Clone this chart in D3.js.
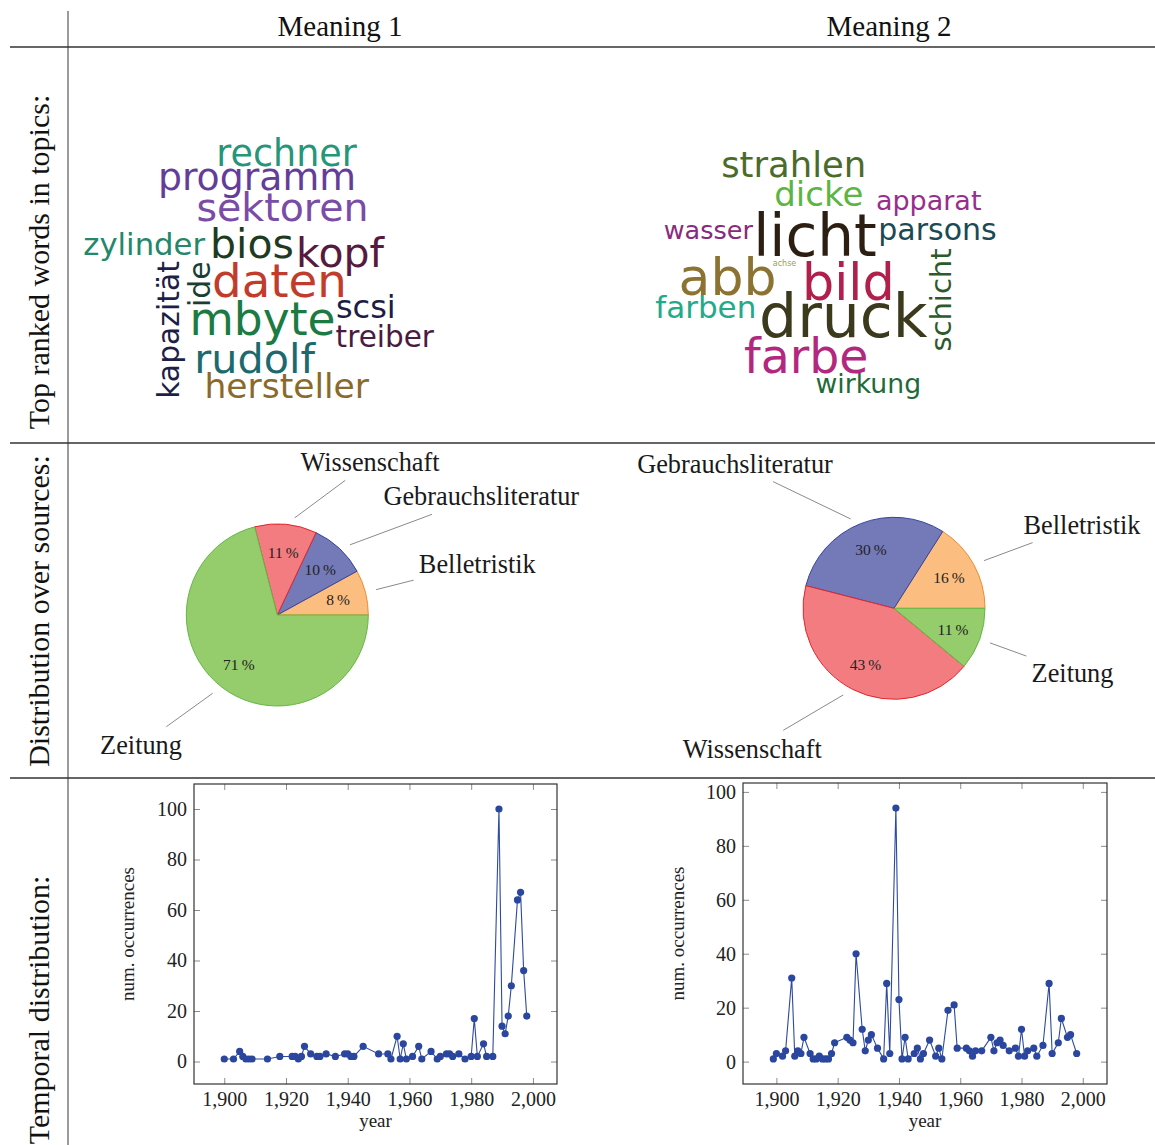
<!DOCTYPE html>
<html>
<head>
<meta charset="utf-8">
<script src="https://cdn.jsdelivr.net/npm/d3@7"></script>
<style>
  html, body { margin: 0; padding: 0; background: #fff; }
  svg { display: block; }
  .serif { font-family: "Liberation Serif", "Times New Roman", serif; }
  .cloud text { font-family: "DejaVu Sans", sans-serif; }
</style>
</head>
<body>
<svg id="fig" width="1155" height="1145"></svg>
<script>
// ---------- data ----------
const columnTitles = ["Meaning 1", "Meaning 2"];
const rowTitles = ["Top ranked words in topics:", "Distribution over sources:", "Temporal distribution:"];

// topic words with their weights (font size in px)
const words1 = ["rechner", "programm", "sektoren", "zylinder", "bios", "kopf", "daten",
                "ide", "kapazität", "mbyte", "scsi", "treiber", "rudolf", "hersteller"];
const weights1 = [36.5, 37.8, 39.5, 30.7, 41, 41, 46.7, 30, 29.8, 45.5, 32, 29.5, 41.3, 34.5];
const colors1 = ["#25967a", "#643d99", "#7a4ca6", "#23876b", "#1f3b1f", "#561a40", "#c23c2c",
                 "#193f35", "#1e1f48", "#1c7a43", "#201d44", "#4a1b42", "#1c6a6e", "#8a6a2b"];

const words2 = ["strahlen", "dicke", "apparat", "wasser", "licht", "parsons", "achse",
                "abb", "bild", "schicht", "farben", "druck", "farbe", "wirkung"];
const weights2 = [35.4, 34, 27, 25.5, 58, 30, 8, 52, 50.8, 29, 31, 60, 47.4, 26.7];
const colors2 = ["#4b6b2a", "#5cb543", "#982e8c", "#892a7c", "#2c1f12", "#1b4a55", "#a0a040",
                 "#8c7331", "#b11f4b", "#2d5a2d", "#22aa8a", "#3b3a1d", "#b2287f", "#1f6a38"];

const sources = ["Belletristik", "Gebrauchsliteratur", "Wissenschaft", "Zeitung"];
const share1 = [8, 10, 11, 71];
const share2 = [16, 30, 43, 11];

const years1 = [1900,1903,1905,1906,1907,1908,1909,1914,1918,1922,1923,1924,1925,1926,1928,1930,1931,1933,1936,1939,
                1940,1941,1942,1945,1950,1953,1954,1956,1957,1958,1959,1961,1963,1964,1967,1969,1970,1972,1973,1974,
                1976,1978,1980,1981,1982,1984,1985,1987,1989,1990,1991,1992,1993,1995,1996,1997,1998];
const counts1 = [1,1,4,2,1,1,1,1,2,2,2,1,2,6,3,2,2,3,2,3,
                 3,2,2,6,3,3,1,10,1,7,1,2,6,1,4,1,2,3,3,2,
                 3,1,2,17,2,7,2,2,100,14,11,18,30,64,67,36,18];

const years2 = [1899,1900,1902,1903,1905,1906,1907,1908,1909,1911,1912,1913,1914,1915,1916,1917,1918,1919,1923,1924,
                1925,1926,1928,1929,1930,1931,1933,1935,1936,1937,1939,1940,1941,1942,1943,1945,1946,1947,1948,1950,
                1952,1953,1954,1956,1958,1959,1962,1963,1964,1965,1967,1970,1971,1972,1973,1974,1976,1978,1979,1980,
                1981,1982,1984,1985,1987,1989,1990,1992,1993,1995,1996,1998];
const counts2 = [1,3,2,4,31,2,4,3,9,3,1,1,2,1,1,1,3,7,9,8,
                 7,40,12,4,8,10,5,1,29,3,94,23,1,9,1,3,5,1,3,8,
                 2,5,1,19,21,5,5,4,2,4,4,9,4,7,8,6,4,5,2,12,
                 2,4,5,2,6,29,3,7,16,9,10,3];

const yearTicks = [1900, 1920, 1940, 1960, 1980, 2000];
const countTicks = [0, 20, 40, 60, 80, 100];

// ---------- layout ----------
// word placement: [centre x, baseline y, rotation]
const cloudLayout1 = [[286.5,166,0],[257,190,0],[282.5,221,0],[144.2,255,0],[252,258,0],[340,266.5,0],[279.5,297,0],
                      [210,284.2,-90],[179,330,-90],[262.5,335,0],[365.8,318,0],[384.8,347,0],[254.7,373,0],[286.7,398,0]];
const cloudLayout2 = [[793.7,177.3,0],[818.8,206,0],[928.7,210,0],[708.3,239.3,0],[815,256,0],[937.5,240,0],[784.5,266,0],
                      [727.5,295,0],[848.3,300,0],[951,300,-90],[705.8,318.3,0],[843.3,336.7,0],[806.3,373.3,0],[868.3,393.3,0]];

const pieBoxes = [
  { cx: 277.3, cy: 615, r: 91, pins: [[200, -51], [204, -119], [92.7, -153], [-136.3, 130]] },
  { cx: 894, cy: 608.3, r: 91, pins: [[188, -84], [-159, -145], [-141.8, 140.3], [178.5, 64.5]] }
];
const sliceFill = ["#fcbd80", "#7479b8", "#f27c80", "#95cd6c"];
const sliceStroke = ["#f28a2a", "#34449e", "#e3262e", "#62b844"];

const plotBoxes = [
  { x0: 194, x1: 557, y0: 784, y1: 1084, labelX: 134 },
  { x0: 743, x1: 1107, y0: 783, y1: 1084, labelX: 684 }
];

const svg = d3.select("#fig");

// ---------- table rules ----------
const rules = svg.append("g");
rules.append("line").attr("x1", 68).attr("x2", 68).attr("y1", 11).attr("y2", 1145)
  .attr("stroke", "#7a7a7a").attr("stroke-width", 1.5);
[47, 443, 778].forEach(y => {
  rules.append("line").attr("x1", 10).attr("x2", 1155).attr("y1", y).attr("y2", y)
    .attr("stroke", "#333").attr("stroke-width", 1.3);
});

// column and row headings
svg.append("g").attr("class", "serif").selectAll("text").data(columnTitles).join("text")
  .attr("x", (d, i) => [340, 889][i]).attr("y", 36)
  .attr("text-anchor", "middle").attr("font-size", 29).attr("fill", "#111").text(d => d);

svg.append("g").attr("class", "serif").selectAll("text").data(rowTitles).join("text")
  .attr("transform", (d, i) => `translate(49,${[262, 611, 1010][i]}) rotate(-90)`)
  .attr("text-anchor", "middle").attr("font-size", 30).attr("fill", "#111").text(d => d);

// ---------- word clouds ----------
function drawCloud(words, weights, colors, layout) {
  const g = svg.append("g").attr("class", "cloud");
  g.selectAll("text").data(words).join("text")
    .attr("transform", (d, i) => `translate(${layout[i][0]},${layout[i][1]}) rotate(${layout[i][2]})`)
    .attr("text-anchor", "middle")
    .attr("font-size", (d, i) => weights[i])
    .attr("fill", (d, i) => colors[i])
    .text(d => d);
}
drawCloud(words1, weights1, colors1, cloudLayout1);
drawCloud(words2, weights2, colors2, cloudLayout2);

// ---------- pies ----------
function drawPie(values, box) {
  const g = svg.append("g").attr("transform", `translate(${box.cx},${box.cy})`);
  // counter-clockwise from 3 o'clock
  const arcs = d3.pie().sort(null).value(d => d)
    .startAngle(Math.PI / 2).endAngle(Math.PI / 2 - 2 * Math.PI)(values);
  const arc = d3.arc().innerRadius(0).outerRadius(box.r);
  g.selectAll("path").data(arcs).join("path")
    .attr("d", arc)
    .attr("fill", (d, i) => sliceFill[i])
    .attr("stroke", (d, i) => sliceStroke[i])
    .attr("stroke-width", 1)
    .attr("stroke-linejoin", "round");

  const inner = d3.arc().innerRadius(box.r * 0.69).outerRadius(box.r * 0.69);
  g.selectAll("text.pct").data(arcs).join("text").attr("class", "pct serif")
    .attr("x", d => inner.centroid(d)[0]).attr("y", d => inner.centroid(d)[1])
    .attr("text-anchor", "middle").attr("dy", "0.35em")
    .attr("font-size", 15.5).attr("fill", "#222")
    .text(d => d.data + "\u2009%");

  // pinned source labels
  arcs.forEach((a, i) => {
    const mid = (a.startAngle + a.endAngle) / 2;
    const px = box.r * Math.sin(mid), py = -box.r * Math.cos(mid);
    const [lx, ly] = box.pins[i];
    const label = g.append("text").attr("class", "serif")
      .attr("x", lx).attr("y", ly).attr("dy", "0.35em")
      .attr("text-anchor", "middle").attr("font-size", 26.3).attr("fill", "#1a1a1a")
      .text(sources[i]);
    const w = label.node().getComputedTextLength();
    const dx = lx - px, dy = ly - py, len = Math.hypot(dx, dy);
    const ux = dx / len, uy = dy / len;
    const hw = w / 2 + 5.3, hh = 18.3;
    const tEnd = Math.min(hw / Math.abs(ux || 1e-9), hh / Math.abs(uy || 1e-9));
    g.insert("line", "text")
      .attr("x1", px + ux * 11).attr("y1", py + uy * 11)
      .attr("x2", lx - ux * tEnd).attr("y2", ly - uy * tEnd)
      .attr("stroke", "#8a8a8a").attr("stroke-width", 1);
  });
}
drawPie(share1, pieBoxes[0]);
drawPie(share2, pieBoxes[1]);

// ---------- temporal line plots ----------
function enlarged(ext) {
  const pad = (ext[1] - ext[0]) * 0.1;
  return [ext[0] - pad, ext[1] + pad];
}
function drawPlot(years, counts, box) {
  const x = d3.scaleLinear().domain(enlarged(d3.extent(years))).range([box.x0, box.x1]);
  const y = d3.scaleLinear().domain(enlarged(d3.extent(counts))).range([box.y1, box.y0]);
  const g = svg.append("g").attr("class", "serif");

  const axes = [
    g.append("g").attr("transform", `translate(0,${box.y1})`)
      .call(d3.axisBottom(x).tickValues(yearTicks).tickFormat(d3.format(",")).tickSize(-6).tickPadding(8)),
    g.append("g").attr("transform", `translate(0,${box.y0})`)
      .call(d3.axisTop(x).tickValues(yearTicks).tickFormat("").tickSize(-6)),
    g.append("g").attr("transform", `translate(${box.x0},0)`)
      .call(d3.axisLeft(y).tickValues(countTicks).tickSize(-6).tickPadding(7)),
    g.append("g").attr("transform", `translate(${box.x1},0)`)
      .call(d3.axisRight(y).tickValues(countTicks).tickFormat("").tickSize(-6))
  ];
  axes.forEach(a => {
    a.select(".domain").remove();
    a.selectAll(".tick line").attr("stroke", "#8c8c8c").attr("stroke-width", 1);
    a.selectAll(".tick text").attr("font-size", 20).attr("fill", "#222")
      .attr("font-family", "'Liberation Serif', serif");
  });

  g.append("rect").attr("x", box.x0).attr("y", box.y0)
    .attr("width", box.x1 - box.x0).attr("height", box.y1 - box.y0)
    .attr("fill", "none").attr("stroke", "#333").attr("stroke-width", 1.2);

  const pts = years.map((yr, i) => [yr, counts[i]]);
  g.append("path").datum(pts)
    .attr("d", d3.line().x(d => x(d[0])).y(d => y(d[1])))
    .attr("fill", "none").attr("stroke", "#2d4aa0").attr("stroke-width", 1.1);
  g.append("g").selectAll("circle").data(pts).join("circle")
    .attr("cx", d => x(d[0])).attr("cy", d => y(d[1])).attr("r", 3.6)
    .attr("fill", "#2a469e");

  g.append("text").attr("x", (box.x0 + box.x1) / 2).attr("y", 1127)
    .attr("text-anchor", "middle").attr("font-size", 19).attr("fill", "#222").text("year");
  g.append("text")
    .attr("transform", `translate(${box.labelX},${(box.y0 + box.y1) / 2}) rotate(-90)`)
    .attr("text-anchor", "middle").attr("font-size", 19).attr("fill", "#222").text("num. occurrences");
}
drawPlot(years1, counts1, plotBoxes[0]);
drawPlot(years2, counts2, plotBoxes[1]);
</script>
</body>
</html>
